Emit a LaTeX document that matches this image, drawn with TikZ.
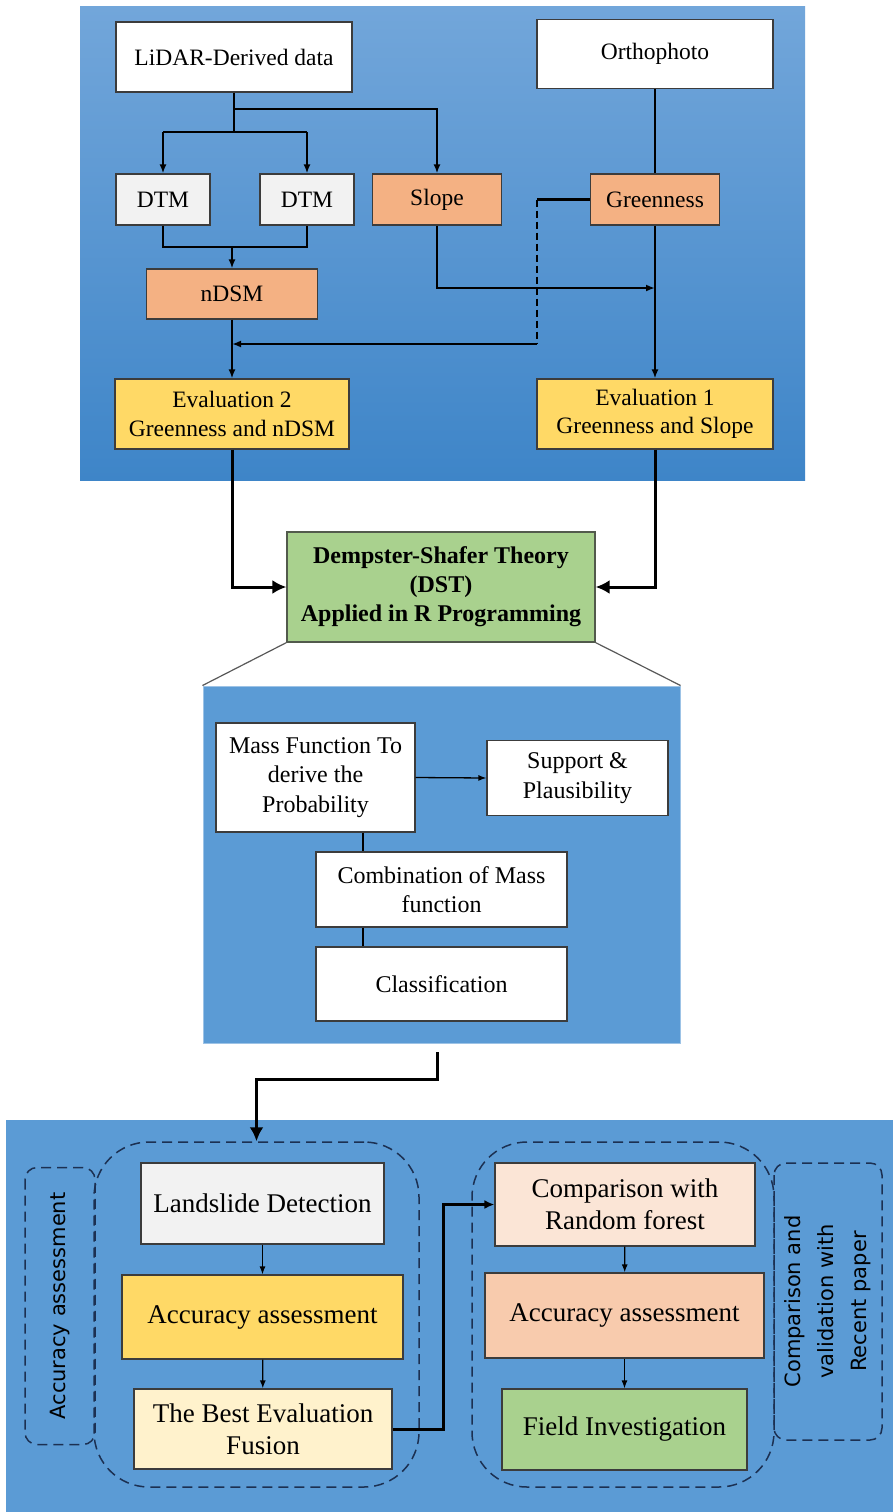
\documentclass[tikz,border=0pt]{standalone}
\usepackage{fontspec}
\setmainfont{Liberation Serif}
\newfontfamily\sidefont{DejaVu Sans}
\usetikzlibrary{arrows.meta,calc}

\definecolor{panelblue}{RGB}{91,155,213}
\definecolor{paneltop}{RGB}{114,166,218}
\definecolor{panelbot}{RGB}{62,133,200}
\definecolor{boxline}{RGB}{60,60,60}
\definecolor{peachbox}{RGB}{244,177,131}
\definecolor{goldbox}{RGB}{255,217,102}
\definecolor{greybox}{RGB}{242,242,242}
\definecolor{leafbox}{RGB}{169,209,142}
\definecolor{creambox}{RGB}{255,242,204}
\definecolor{pinkbox}{RGB}{251,229,214}
\definecolor{salmonbox}{RGB}{248,203,173}
\definecolor{dashnavy}{RGB}{28,48,82}

\begin{document}
\begin{tikzpicture}[x=1pt,y=-1pt,
    box/.style={draw=boxline,line width=1.2pt,align=center,inner sep=0pt},
    toptext/.style={font=\fontsize{23.5}{28.5}\selectfont},
    midtext/.style={font=\fontsize{24}{29.5}\selectfont},
    lowtext/.style={font=\fontsize{27}{32}\selectfont},
    sidetext/.style={font=\sidefont\fontsize{21}{33}\selectfont},
    grouprim/.style={draw=dashnavy,line width=1.5pt,dash pattern=on 10pt off 6pt,inner sep=0pt},
    topline/.style={line width=2.2pt},
    bigline/.style={line width=3pt},
    thinline/.style={line width=1.3pt},
    arr/.style={-{Latex[length=9pt,width=7pt]}},
    bigarr/.style={-{Latex[length=14pt,width=14pt]}},
    smallarr/.style={-{Latex[length=8pt,width=6pt]}}]
  \useasboundingbox (0,0) rectangle (893,1512);
  \fill[white] (0,0) rectangle (893,1512);

  % data panel
  \shade[top color=paneltop,bottom color=panelbot] (80,7) rectangle (805,480);
  \node[box,fill=white,minimum width=236pt,minimum height=70pt,toptext] (lidar) at (234,57) {LiDAR-Derived data};
  \node[box,fill=white,minimum width=236pt,minimum height=69pt,toptext] (ortho) at (655,54) {Orthophoto};
  \node[box,fill=greybox,minimum width=94pt,minimum height=51pt,toptext] (dtmA) at (163,199.5) {DTM};
  \node[box,fill=greybox,minimum width=94pt,minimum height=51pt,toptext] (dtmB) at (307,199.5) {DTM};
  \node[box,fill=peachbox,minimum width=129pt,minimum height=51pt,toptext] (slope) at (437,199.5) {Slope};
  \node[box,fill=peachbox,minimum width=129pt,minimum height=51pt,toptext] (green) at (655,199.5) {Greenness};
  \node[box,fill=peachbox,minimum width=171pt,minimum height=50pt,toptext] (ndsm) at (232,294) {nDSM};
  \node[box,fill=goldbox,minimum width=234pt,minimum height=70pt,toptext] (evalB) at (232,414) {Evaluation 2\\Greenness and nDSM};
  \node[box,fill=goldbox,minimum width=236pt,minimum height=70pt,toptext] (evalA) at (655,414) {Evaluation 1\\Greenness and Slope};

  \coordinate (fork) at (234,109);
  \coordinate (split) at (234,132);
  \coordinate (join) at (232,247);
  \coordinate (gturn) at (537,199.5);
  \coordinate (gdown) at (537,344);
  \coordinate (sjoin) at (655,288);

  \draw[topline] (lidar.south) -- (split);
  \draw[topline,arr] (fork) -| (slope.north);
  \draw[topline] (dtmA.north |- split) -- (dtmB.north |- split);
  \draw[topline,arr] (dtmA.north |- split) -- (dtmA.north);
  \draw[topline,arr] (dtmB.north |- split) -- (dtmB.north);
  \draw[topline] (dtmA.south) |- (join) -| (dtmB.south);
  \draw[topline,arr] (join) -- (ndsm.north);
  \draw[topline,arr] (ndsm.south) -- (evalB.north);
  \draw[topline] (ortho.south) -- (green.north);
  \draw[topline] (green.west) -- (gturn);
  \draw[line width=1.2pt,dash pattern=on 7pt off 4pt] (gturn) -- (gdown);
  \draw[topline,arr] (gdown) -- (ndsm.south |- gdown);
  \draw[topline,arr] (slope.south) |- (sjoin);
  \draw[topline,arr] (green.south) -- (evalA.north);

  % DST
  \node[box,fill=leafbox,draw=boxline!80!leafbox,minimum width=308pt,minimum height=110pt,
        font=\bfseries\fontsize{24}{29}\selectfont] (dst) at (441,587)
        {Dempster-Shafer Theory\\(DST)\\Applied in R Programming};
  \draw[bigline,bigarr] (evalB.south) |- (dst.west);
  \draw[bigline,bigarr] (evalA.south) |- (dst.east);

  \node[fill=panelblue,draw=panelblue!60!white,line width=1pt,inner sep=0pt,
        minimum width=477pt,minimum height=357pt] (dstpanel) at (441.5,864.5) {};
  \draw[black!65,line width=1.2pt] (dst.south west) -- (dstpanel.north west);
  \draw[black!65,line width=1.2pt] (dst.south east) -- (dstpanel.north east);

  \node[box,fill=white,minimum width=199pt,minimum height=109pt,midtext] (mass) at (315.5,777.5) {Mass Function To\\derive the\\Probability};
  \node[box,fill=white,minimum width=181pt,minimum height=75pt,midtext] (support) at (577.5,778) {Support \&\\Plausibility};
  \node[box,fill=white,minimum width=251pt,minimum height=75pt,midtext] (comb) at (441.5,889.5) {Combination of Mass\\function};
  \node[box,fill=white,minimum width=251pt,minimum height=74pt,midtext] (classif) at (441.5,984) {Classification};

  \coordinate (massx) at (363,0);
  \draw[thinline,smallarr] (mass.east) -- (support.west);
  \draw[thinline] (mass.south -| massx) -- (comb.north -| massx);
  \draw[thinline] (comb.south -| massx) -- (classif.north -| massx);

  % results panel
  \fill[panelblue] (6,1120) rectangle (893,1512);
  \node[grouprim,rounded corners=55pt,minimum width=325pt,minimum height=345pt] (leftgroup) at (256.5,1314.5) {};
  \node[grouprim,rounded corners=55pt,minimum width=302pt,minimum height=345pt] (rightgroup) at (623,1314.5) {};
  \node[grouprim,rounded corners=12pt,rotate=90,minimum width=277pt,minimum height=70pt,sidetext] (accnote) at (60,1306) {Accuracy assessment};
  \node[grouprim,rounded corners=12pt,rotate=90,minimum width=277pt,minimum height=108pt,sidetext,align=center] (cmpnote) at (828,1301.5) {Comparison and\\validation with\\Recent paper};

  \node[box,fill=greybox,minimum width=243pt,minimum height=81pt,lowtext] (landslide) at (262.5,1203.5) {Landslide Detection};
  \node[box,fill=goldbox,minimum width=281pt,minimum height=84pt,lowtext] (accA) at (262.5,1317) {Accuracy assessment};
  \node[box,fill=creambox,minimum width=258pt,minimum height=80pt,lowtext] (best) at (263,1429) {The Best Evaluation\\Fusion};
  \node[box,fill=pinkbox,minimum width=260pt,minimum height=83pt,lowtext] (compare) at (625,1204.5) {Comparison with\\Random forest};
  \node[box,fill=salmonbox,minimum width=279pt,minimum height=85pt,lowtext] (accB) at (624.5,1315.5) {Accuracy assessment};
  \node[box,fill=leafbox,minimum width=245pt,minimum height=81pt,lowtext] (field) at (624.5,1429.5) {Field Investigation};

  \coordinate (tail) at (437,1052);
  \draw[bigline,bigarr] (tail) -- (437,1079) -| (leftgroup.north);
  \draw[thinline,smallarr] (landslide) -- (accA);
  \draw[thinline,smallarr] (accA) -- (best);
  \draw[bigline,-{Latex[length=10pt,width=9pt]}] (best.east) -- ++(51,0) |- (compare.west);
  \draw[thinline,smallarr] (compare) -- (accB);
  \draw[thinline,smallarr] (accB) -- (field);
\end{tikzpicture}
\end{document}
